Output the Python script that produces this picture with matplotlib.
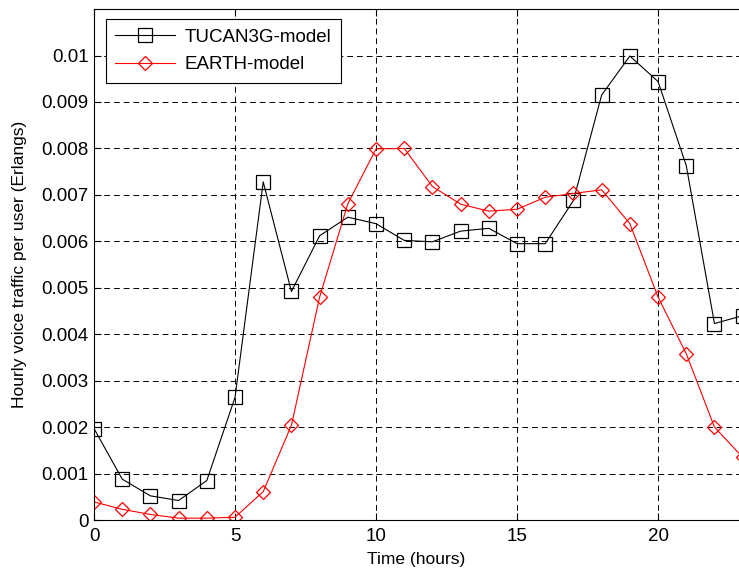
import numpy as np
import matplotlib.pyplot as plt
import matplotlib as mpl

mpl.rcParams['font.family'] = 'Liberation Sans'
mpl.rcParams['font.size'] = 13.5
mpl.rcParams['xtick.direction'] = 'in'
mpl.rcParams['ytick.direction'] = 'in'
mpl.rcParams['xtick.top'] = True

# hourly values
hours = np.arange(0, 24)
tucan3g = [0.00197, 0.00088, 0.00052, 0.00042, 0.00085, 0.00264, 0.00728, 0.00492,
           0.00612, 0.00652, 0.00638, 0.00602, 0.00599, 0.00622, 0.00628, 0.00595,
           0.00595, 0.00688, 0.00915, 0.00999, 0.00944, 0.00763, 0.00423, 0.00440]
earth = [0.00039, 0.00023, 0.00012, 0.00004, 0.00004, 0.00006, 0.00061, 0.00204,
         0.00480, 0.00681, 0.00799, 0.00800, 0.00718, 0.00680, 0.00665, 0.00669,
         0.00695, 0.00703, 0.00711, 0.00638, 0.00480, 0.00358, 0.00200, 0.00135]

xticks = [0, 5, 10, 15, 20]
yticks = np.arange(0, 0.0101, 0.001)
ytick_labels = ['0', '0.001', '0.002', '0.003', '0.004', '0.005',
                '0.006', '0.007', '0.008', '0.009', '0.01']

fig = plt.figure(figsize=(7.39, 5.76), dpi=100)
ax = fig.add_axes([0.1272, 0.0972, 0.8728, 0.887])

ax.plot(hours, tucan3g, color='k', lw=0.8, marker='s', markersize=9.5,
        markerfacecolor='none', markeredgewidth=0.9, label='TUCAN3G-model')
ax.plot(hours, earth, color='r', lw=0.8, marker='D', markersize=7.5,
        markerfacecolor='none', markeredgewidth=0.9, label='EARTH-model')

ax.set_xlim(0, 22.87)
ax.set_ylim(0, 0.011)
ax.set_xticks(xticks)
ax.set_yticks(yticks)
ax.set_yticklabels(ytick_labels)
ax.spines['right'].set_visible(False)
ax.grid(True, color='k', linestyle=(0, (6, 4)), lw=0.7)
ax.tick_params(length=5, width=0.8, labelsize=13.5, pad=4)
ax.tick_params(axis='x', pad=6)

ax.set_xlabel('Time (hours)', fontsize=12.5, labelpad=5)
ax.set_ylabel('Hourly voice traffic per user (Erlangs)', fontsize=12.5, labelpad=10)

leg = ax.legend(loc='upper left', bbox_to_anchor=(0.0186, 0.98), borderaxespad=0,
                fancybox=False, framealpha=1, edgecolor='k', fontsize=13.5,
                handlelength=3.2, handletextpad=0.5, borderpad=0.5,
                labelspacing=0.55)
leg.get_frame().set_linewidth(0.8)

plt.savefig('out.png', dpi=100)
